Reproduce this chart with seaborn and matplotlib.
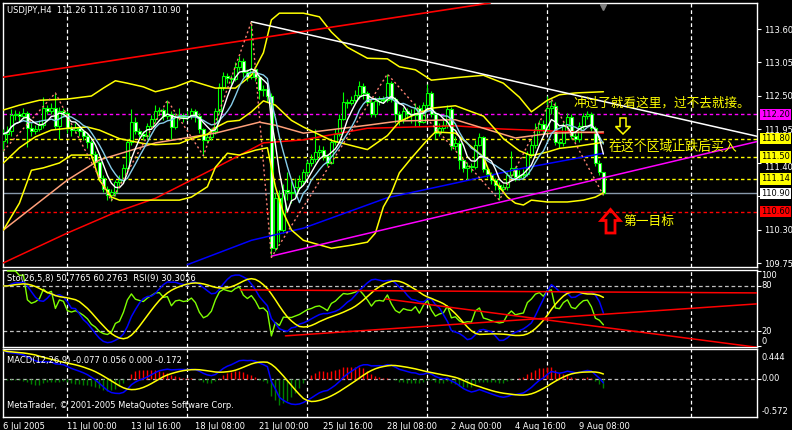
import numpy as np
import pandas as pd
import matplotlib
matplotlib.use("Agg")
import matplotlib.pyplot as plt
import matplotlib.transforms as mtrans
from matplotlib.patches import Polygon
import seaborn as sns

# ---------------- data ----------------
x_labels = ["6 Jul 2005", "11 Jul 00:00", "13 Jul 16:00", "18 Jul 08:00", "21 Jul 00:00",
            "25 Jul 16:00", "28 Jul 08:00", "2 Aug 00:00", "4 Aug 16:00", "9 Aug 08:00"]
x_label_bars = [0, 16, 32, 48, 64, 80, 96, 112, 128, 144]
week_bars = [16, 46, 76, 106, 136, 172]

first_open = 111.76
closes = [
    111.88, 111.92, 112.18, 112.20, 112.17, 112.22, 111.98, 111.93, 111.96, 112.02,
    112.30, 112.25, 112.30, 112.00, 112.25, 112.22, 111.98, 111.94, 111.97, 111.92,
    111.85, 111.75, 111.55, 111.42, 111.15, 110.97, 110.88, 110.92, 111.08, 111.12,
    111.32, 111.75, 112.08, 111.92, 111.88, 111.85, 112.00, 112.12, 112.25, 112.27,
    112.17, 112.20, 111.99, 112.15, 112.18, 112.15, 112.17, 112.25, 112.17, 111.95,
    111.78, 111.82, 111.92, 112.25, 112.65, 112.83, 112.80, 112.78, 112.97, 113.08,
    112.90, 112.82, 112.95, 112.82, 112.60, 112.62, 112.50, 110.00, 110.82, 110.30,
    110.95, 110.92, 110.90, 111.00, 111.10, 111.25, 111.40, 111.47, 111.58, 111.62,
    111.52, 111.40, 111.75, 111.88, 112.13, 112.40, 112.38, 112.43, 112.52, 112.67,
    112.55, 112.40, 112.20, 112.42, 112.45, 112.43, 112.72, 112.45, 112.20, 112.10,
    112.25, 112.20, 112.18, 112.30, 112.08, 112.35, 112.55, 112.20, 111.90, 111.98,
    112.02, 112.28, 111.68, 111.72, 111.45, 111.32, 111.35, 111.33, 111.70, 111.82,
    111.30, 111.22, 111.12, 111.04, 110.98, 111.00, 111.20, 111.32, 111.17, 111.20,
    111.22, 111.55, 111.70, 111.95, 112.04, 111.95, 112.30, 112.33, 111.75, 111.72,
    112.00, 112.15, 111.85, 111.80, 112.00, 112.17, 112.20, 111.97, 111.40, 111.26,
    110.90]
highs = [
    111.95, 112.00, 112.28, 112.27, 112.25, 112.30, 112.25, 112.05, 112.02, 112.10,
    112.48, 112.35, 112.38, 112.55, 112.32, 112.30, 112.25, 112.02, 112.05, 112.00,
    111.95, 111.88, 111.78, 111.60, 111.45, 111.20, 111.02, 110.98, 111.12, 111.20,
    111.38, 111.80, 112.28, 112.15, 111.97, 111.93, 112.05, 112.18, 112.35, 112.32,
    112.30, 112.43, 112.25, 112.22, 112.30, 112.22, 112.25, 112.30, 112.28, 112.22,
    111.98, 111.90, 111.98, 112.30, 112.72, 112.90, 112.88, 112.85, 113.05, 113.15,
    113.12, 112.95, 113.72, 113.00, 112.85, 112.68, 112.65, 112.55, 110.90, 110.95,
    111.05, 111.26, 111.10, 111.15, 111.20, 111.30, 111.45, 111.55, 111.95, 111.70,
    111.68, 111.55, 111.80, 111.95, 112.20, 112.56, 112.45, 112.50, 112.60, 112.75,
    112.72, 112.58, 112.45, 112.48, 112.50, 112.50, 112.86, 112.75, 112.48, 112.25,
    112.32, 112.30, 112.28, 112.38, 112.35, 112.40, 112.70, 112.58, 112.25, 112.05,
    112.10, 112.35, 112.32, 111.85, 111.78, 111.48, 111.42, 111.40, 111.78, 111.90,
    111.85, 111.35, 111.25, 111.15, 111.08, 111.05, 111.25, 111.60, 111.35, 111.28,
    111.30, 111.60, 111.78, 112.05, 112.10, 112.10, 112.50, 112.45, 112.40, 111.80,
    112.08, 112.22, 112.20, 111.90, 112.08, 112.22, 112.25, 112.24, 112.00, 111.45,
    111.26]
lows = [
    111.60, 111.72, 111.85, 112.10, 112.08, 112.12, 111.67, 111.85, 111.88, 111.92,
    111.98, 112.20, 112.20, 111.95, 111.80, 112.15, 111.90, 111.85, 111.90, 111.85,
    111.78, 111.65, 111.50, 111.35, 111.10, 110.92, 110.80, 110.78, 110.85, 111.02,
    111.08, 111.28, 111.70, 111.88, 111.82, 111.78, 111.80, 111.95, 112.08, 112.18,
    112.10, 112.12, 111.80, 111.95, 112.10, 112.08, 112.10, 112.12, 112.08, 111.90,
    111.52, 111.72, 111.78, 111.88, 112.20, 112.60, 112.72, 112.70, 112.75, 112.92,
    112.82, 112.75, 112.78, 112.75, 112.45, 112.50, 112.40, 109.85, 109.95, 110.10,
    110.25, 110.80, 110.75, 110.85, 110.95, 111.05, 111.20, 111.35, 111.42, 111.50,
    111.45, 111.35, 111.38, 111.70, 111.85, 112.10, 112.30, 112.35, 112.40, 112.45,
    112.45, 112.35, 112.15, 112.15, 112.35, 112.38, 112.40, 112.40, 112.05, 112.02,
    112.05, 112.12, 112.05, 112.00, 112.00, 112.05, 112.30, 112.15, 111.80, 111.85,
    111.92, 111.98, 111.62, 111.62, 111.30, 111.25, 111.12, 111.25, 111.30, 111.68,
    111.25, 111.15, 111.05, 110.95, 110.79, 110.92, 110.95, 111.15, 111.10, 111.12,
    111.15, 111.18, 111.50, 111.65, 111.90, 111.90, 111.90, 112.20, 111.70, 111.65,
    111.68, 111.95, 111.80, 111.75, 111.75, 111.95, 112.12, 111.92, 111.35, 111.20,
    110.87]

# Bollinger bands (yellow)
bb_up_bars = [0, 4, 9, 16, 22, 25, 28, 31, 35, 38, 43, 47, 53, 58, 62, 65, 67, 69, 75, 79,
              82, 86, 91, 96, 99, 103, 107, 113, 120, 125, 129, 132, 136, 139, 143, 150]
bb_up_vals = [112.27, 112.35, 112.43, 112.45, 112.50, 112.63, 112.75, 112.71, 112.65, 112.57,
              112.65, 112.75, 112.63, 112.63, 112.84, 113.21, 113.75, 113.86, 113.86, 113.80,
              113.55, 113.30, 113.12, 113.11, 112.98, 112.93, 112.76, 112.80, 112.84, 112.71,
              112.48, 112.24, 112.43, 112.52, 112.55, 112.57]
bb_mid_bars = [0, 4, 8, 12, 16, 21, 24, 29, 35, 38, 44, 47, 51, 53, 56, 59, 62, 65, 68, 72,
               75, 82, 91, 96, 99, 103, 107, 113, 120, 125, 129, 132, 136, 139, 143, 150]
bb_mid_vals = [111.40, 111.65, 111.83, 111.94, 111.97, 111.99, 111.94, 111.80, 111.72, 111.70,
               111.72, 111.80, 111.87, 111.98, 112.08, 112.10, 112.24, 112.42, 112.35, 112.10,
               111.99, 111.77, 111.62, 111.85, 112.08, 112.20, 112.30, 112.34, 112.17, 111.80,
               111.60, 111.52, 111.58, 111.64, 111.67, 111.74]
bb_lo_bars = [0, 4, 7, 10, 14, 17, 22, 24, 27, 29, 44, 47, 51, 53, 56, 59, 63, 66, 68, 70,
              72, 75, 82, 87, 91, 93, 95, 97, 99, 102, 106, 108, 113, 120, 122, 126, 128, 130,
              132, 136, 141, 145, 148, 150]
bb_lo_vals = [110.30, 110.74, 111.28, 111.32, 111.40, 111.53, 111.53, 111.12, 110.84, 110.79,
              110.79, 110.84, 111.01, 111.33, 111.56, 111.53, 111.61, 111.65, 111.01, 110.58,
              110.30, 110.13, 110.00, 110.05, 110.10, 110.25, 110.68, 110.91, 111.24, 111.48,
              111.78, 111.91, 111.89, 111.50, 111.17, 110.84, 110.74, 110.71, 110.79, 110.76,
              110.76, 110.79, 110.84, 110.91]

# long moving averages
red_ma_bars = [0, 16, 28, 38, 53, 65, 75, 91, 113, 124, 150]
red_ma_vals = [109.76, 110.25, 110.59, 110.82, 111.32, 111.73, 111.78, 111.97, 112.01, 111.96, 111.89]
orange_ma_bars = [0, 16, 24, 38, 53, 64, 68, 75, 91, 99, 113, 120, 128, 137, 150]
orange_ma_vals = [110.30, 111.12, 111.45, 111.73, 111.89, 112.07, 112.02, 111.89, 112.02, 112.09,
                  112.11, 111.97, 111.81, 111.89, 111.91]
blue_ma_bars = [46, 62, 75, 96, 113, 128, 150]
blue_ma_vals = [109.73, 110.13, 110.33, 110.83, 111.07, 111.29, 111.56]

# zigzag swing points
zz_bars = [0, 13, 27, 41, 50, 62, 67, 96, 124, 137, 150]
zz_vals = [111.60, 112.55, 110.78, 112.43, 111.52, 113.72, 109.85, 112.86, 110.79, 112.45, 110.87]

# drawn trend lines (two points each)
red_tl_bars, red_tl_vals = [0, 113], [112.81, 113.94]
white_tl_bars, white_tl_vals = [62, 188.3], [113.72, 111.84]
mag_tl_bars, mag_tl_vals = [67, 188.3], [109.87, 111.75]

# horizontal levels
level_magenta = 112.20
levels_yellow = [111.80, 111.50, 111.14]
level_bid = 110.90
level_red = 110.60
price_ticks = [113.60, 113.05, 112.50, 111.95, 111.40, 110.85, 110.30, 109.75]
price_tick_labels = ["113.60", "113.05", "112.50", "111.95", "111.40", "", "110.30", "109.75"]

# trend lines in the oscillator window (bar, value)
sto_tl = [([59.25, 188.3], [74.7, 70.7]),
          ([70.5, 188.3], [13.3, 56.0]),
          ([95.5, 188.3], [62.7, -1.9])]

# MACD main value at the first visible bar (seeds the EMAs)
macd_first = 0.46

# ---------------- indicators derived from the candles ----------------
c = pd.Series(closes)
h = pd.Series(highs)
l = pd.Series(lows)
o = pd.Series([first_open] + closes[:-1])
x = np.arange(len(c))

sma5 = c.rolling(5, min_periods=1).mean()
sma8 = c.rolling(8, min_periods=1).mean()

LL = l.rolling(26, min_periods=1).min()
HH = h.rolling(26, min_periods=1).max()
stoK = 100 * (c - LL).rolling(5, min_periods=1).sum() / (HH - LL).rolling(5, min_periods=1).sum()
stoD = stoK.rolling(8, min_periods=1).mean()

d = c.diff()
au = d.clip(lower=0).ewm(alpha=1/9, adjust=False).mean()
ad = (-d).clip(lower=0).ewm(alpha=1/9, adjust=False).mean()
rsi = 100 - 100 / (1 + au / ad)


def seeded_ema(series, span, seed):
    s = pd.concat([pd.Series([seed]), series], ignore_index=True)
    return s.ewm(span=span, adjust=False).mean().iloc[1:].reset_index(drop=True)


ema12 = seeded_ema(c, 12, closes[0])
ema26 = seeded_ema(c, 26, closes[0] - macd_first)
macd = ema12 - ema26
signal = macd.rolling(9, min_periods=1).mean()
hist = macd - signal

# ---------------- figure ----------------
sns.set_theme(style="dark", rc={"axes.facecolor": "black", "figure.facecolor": "black",
                                "axes.edgecolor": "white", "text.color": "white",
                                "xtick.color": "white", "ytick.color": "white",
                                "axes.grid": False})
plt.rcParams["font.family"] = ["DejaVu Sans", "Noto Sans CJK SC"]
CJK = ["Noto Sans CJK SC", "DejaVu Sans"]

W_PX, H_PX = 792, 430
fig = plt.figure(figsize=(W_PX / 100, H_PX / 100), dpi=100)
fig.patch.set_facecolor("black")


def rect(top, bottom, left=3.0, right=756.7):
    return [left / W_PX, 1 - bottom / H_PX, (right - left) / W_PX, (bottom - top) / H_PX]


ax = fig.add_axes(rect(3, 267))
axs = fig.add_axes(rect(269.5, 347.3))
axm = fig.add_axes(rect(349.3, 416.7))
XL = (-0.1, -0.1 + (756.7 - 3.0) / 4)
YL = (109.692, 114.027)
LIME = "#00FF00"
FS = 6


def px2data(px, py):
    """pixel position inside the price window -> (bar, price) for annotations"""
    return ((px - 3.0) / 4 + XL[0], YL[1] - (py - 3.0) * (YL[1] - YL[0]) / 264.0)


for a in (ax, axs, axm):
    a.set_facecolor("black")
    a.set_xlim(*XL)
    for s in a.spines.values():
        s.set_color("white")
        s.set_linewidth(1.0)
    for b in week_bars:
        a.axvline(b, color="white", lw=0.9, ls=(0, (3, 2.2)), zorder=1)
    a.yaxis.tick_right()
    a.tick_params(axis="both", colors="white", labelsize=FS, length=3, width=0.8,
                  direction="out", pad=2)

# ---- main price window ----
ax.set_ylim(*YL)
ax.set_xticks([])
ax.set_yticks(price_ticks)
ax.set_yticklabels(price_tick_labels)
for lab in ax.get_yticklabels():
    if lab.get_text() == "111.40":
        lab.set_va("top")

ax.axhline(level_magenta, color="#FF00FF", lw=1, ls=(0, (2.5, 2)), zorder=2)
for lv in levels_yellow:
    ax.axhline(lv, color="#FFFF00", lw=1, ls=(0, (2.5, 2)), zorder=2)
ax.axhline(level_red, color="#FF0000", lw=1, ls=(0, (2.5, 2)), zorder=2)
ax.axhline(level_bid, color="#8899AA", lw=1, zorder=2)

# candles
ax.vlines(x, l, h, color=LIME, lw=0.8, zorder=3)
face = np.where(c.values >= o.values, "black", "white")
ax.bar(x, (c - o).values, bottom=o.values, width=0.6, color=face, edgecolor=LIME,
       linewidth=0.8, zorder=4)

# indicator lines
line_kw = dict(ax=ax, legend=False, estimator=None, sort=False)
sns.lineplot(x=red_ma_bars, y=red_ma_vals, color="#FF0000", lw=1.1, zorder=5, **line_kw)
sns.lineplot(x=orange_ma_bars, y=orange_ma_vals, color="#FFA07A", lw=1.1, zorder=5, **line_kw)
sns.lineplot(x=blue_ma_bars, y=blue_ma_vals, color="#0000FF", lw=1.1, zorder=5, **line_kw)
for bb_x, bb_y in ((bb_up_bars, bb_up_vals), (bb_mid_bars, bb_mid_vals), (bb_lo_bars, bb_lo_vals)):
    sns.lineplot(x=bb_x, y=bb_y, color="#FFFF00", lw=1.1, zorder=5, **line_kw)
sns.lineplot(x=x, y=sma8.values, color="#87CEEB", lw=1.0, zorder=6, **line_kw)
sns.lineplot(x=x, y=sma5.values, color="white", lw=1.0, zorder=6, **line_kw)
ax.plot(zz_bars, zz_vals, color="#FA8072", lw=1.0, ls=(0, (1.5, 2)), zorder=6)

ax.axline((red_tl_bars[0], red_tl_vals[0]), (red_tl_bars[1], red_tl_vals[1]),
          color="#FF0000", lw=1.2, zorder=5)
ax.plot(white_tl_bars, white_tl_vals, color="white", lw=1.1, zorder=5)
ax.plot(mag_tl_bars, mag_tl_vals, color="#FF00FF", lw=1.1, zorder=5)

# chart-shift marker
ax.plot([len(c) - 1], [0.985], marker="v", color="#808080", markersize=5,
        transform=mtrans.blended_transform_factory(ax.transData, ax.transAxes), clip_on=False,
        zorder=7)

# price-level boxes on the right axis
bt = mtrans.blended_transform_factory(ax.transAxes, ax.transData)
xr = 1 + 4.5 / 753.7
for val, fc, tc in [(level_magenta, "#FF00FF", "black"), (levels_yellow[0], "#FFFF00", "black"),
                    (levels_yellow[1], "#FFFF00", "black"), (levels_yellow[2], "#FFFF00", "black"),
                    (level_bid, "white", "black"), (level_red, "#FF0000", "black")]:
    ax.text(xr, val, f"{val:.2f}", transform=bt, ha="left", va="center", fontsize=FS,
            color=tc, clip_on=False, zorder=10,
            bbox=dict(boxstyle="square,pad=0.15", fc=fc, ec="none"))

ax.text(4 / 753.7, 1 - 7.5 / 264, "USDJPY,H4  111.26 111.26 110.87 110.90", transform=ax.transAxes,
        ha="left", va="center", fontsize=FS, color="white", zorder=10)

# annotations
ax.text(*px2data(574, 103.5), "冲过了就看这里，过不去就接。", fontsize=9.1, color="#FFFF00",
        family=CJK, ha="left", va="center", zorder=10)
ax.text(*px2data(609, 147), "在这个区域止跌后买入", fontsize=9.3, color="#FFFF00", family=CJK,
        ha="left", va="center", zorder=10)
ax.text(*px2data(623, 221), "第一目标", fontsize=9.2, color="#FFFF00", family=CJK,
        ha="left", va="center", zorder=10)
# hollow arrows
down_arrow_px = [(623, 134), (630.5, 126.5), (626, 126.5), (626, 118), (620, 118),
                 (620, 126.5), (615.5, 126.5)]
up_arrow_px = [(610.5, 209.5), (620, 220.5), (615, 220.5), (615, 233), (606, 233),
               (606, 220.5), (601, 220.5)]
ax.add_patch(Polygon([px2data(*p) for p in down_arrow_px], closed=True, fill=False,
                     ec="#FFFF00", lw=1.1, zorder=10))
ax.add_patch(Polygon([px2data(*p) for p in up_arrow_px], closed=True, fill=False,
                     ec="#FF0000", lw=2.0, zorder=10))

# ---- stochastic / RSI window ----
axs.set_ylim(-2, 102)
axs.set_xticks([])
axs.set_yticks([100, 80, 20, 0])
axs.set_yticklabels([])
for lv in (80, 20):
    axs.axhline(lv, color="#C0C0C0", lw=0.9, ls=(0, (3, 2.2)), zorder=2)
sns.lineplot(x=x, y=rsi.values, color="#7FFF00", lw=1.0, zorder=4, ax=axs, legend=False, estimator=None)
sns.lineplot(x=x, y=stoK.values, color="#0000FF", lw=1.1, zorder=5, ax=axs, legend=False, estimator=None)
sns.lineplot(x=x, y=stoD.values, color="#FFFF00", lw=1.1, zorder=5, ax=axs, legend=False, estimator=None)
for bx, by in sto_tl:
    axs.plot(bx, by, color="#FF0000", lw=1.1, zorder=6)
xr_s = 1 + 4.5 / 753.7
for txt, yy in (("100", 1 - (276 - 269.5) / 77.8), ("80", 1 - (286 - 269.5) / 77.8),
                ("20", 1 - (331 - 269.5) / 77.8), ("0", 1 - (341 - 269.5) / 77.8)):
    axs.text(xr_s, yy, txt, transform=axs.transAxes, ha="left", va="center", fontsize=FS,
             color="white", clip_on=False)
axs.text(4 / 753.7, 1 - (279 - 269.5) / 77.8, "Sto(26,5,8) 50.7765 60.2763  RSI(9) 30.3056",
         transform=axs.transAxes, ha="left", va="center", fontsize=FS, color="white", zorder=10)

# ---- MACD window ----
axm.set_ylim(-0.572, 0.444)
axm.set_yticks([0.0])
axm.set_yticklabels([])
axm.axhline(0, color="#C0C0C0", lw=0.9, ls=(0, (3, 2.2)), zorder=2)
hv = hist.values
axm.vlines(x[hv < 0], 0, hv[hv < 0], color="#008000", lw=1.0, zorder=3)
axm.vlines(x[hv >= 0], 0, hv[hv >= 0], color="#FF0000", lw=1.0, zorder=3)
sns.lineplot(x=x, y=macd.values, color="#0000FF", lw=1.1, zorder=5, ax=axm, legend=False, estimator=None)
sns.lineplot(x=x, y=signal.values, color="#FFFF00", lw=1.1, zorder=5, ax=axm, legend=False, estimator=None)
for txt, yy in (("0.444", 1 - (357 - 349.3) / 67.4), ("0.00", 1 - (378.7 - 349.3) / 67.4),
                ("-0.572", 1 - (411 - 349.3) / 67.4)):
    axm.text(xr_s, yy, txt, transform=axm.transAxes, ha="left", va="center", fontsize=FS,
             color="white", clip_on=False)
axm.text(4 / 753.7, 1 - (360 - 349.3) / 67.4, "MACD(12,26,9) -0.077 0.056 0.000 -0.172",
         transform=axm.transAxes, ha="left", va="center", fontsize=FS, color="white", zorder=10)
axm.text(4 / 753.7, 1 - (405 - 349.3) / 67.4, "MetaTrader, © 2001-2005 MetaQuotes Software Corp.",
         transform=axm.transAxes, ha="left", va="center", fontsize=FS, color="white", zorder=10)

axm.set_xticks(x_label_bars)
axm.set_xticklabels(x_labels)
for lab in axm.get_xticklabels():
    lab.set_ha("left")
axm.tick_params(axis="x", pad=1)

for a in (ax, axs, axm):
    a.set_xlabel(None)
    a.set_ylabel(None)
    a.xaxis.label.set_visible(False)
    a.yaxis.label.set_visible(False)

fig.savefig("out.png", dpi=100, facecolor="black")
